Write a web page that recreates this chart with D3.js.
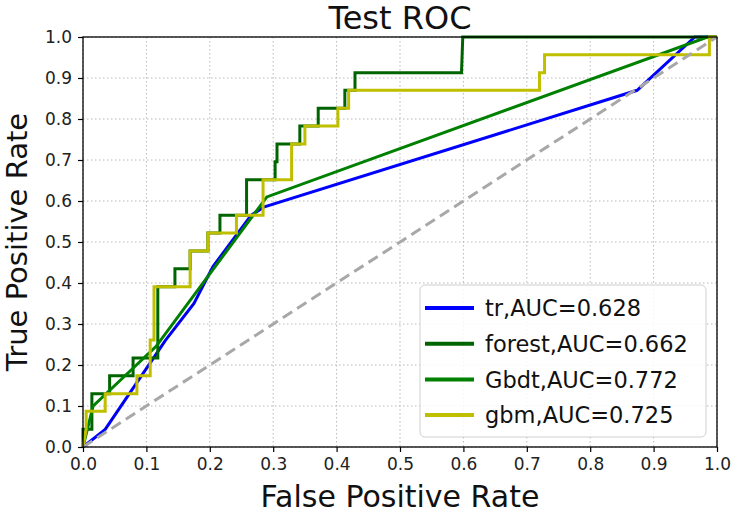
<!DOCTYPE html>
<html>
<head>
<meta charset="utf-8">
<script src="https://cdn.jsdelivr.net/npm/d3@7/dist/d3.min.js"></script>
<style>
  html, body { margin: 0; padding: 0; background: #fff; }
  svg { display: block; font-family: "DejaVu Sans", sans-serif; }
</style>
</head>
<body>
<svg id="chart" width="732" height="513"></svg>
<script>
// ---------- data ----------
const title = "Test ROC";
const xLabel = "False Positive Rate";
const yLabel = "True Positive Rate";
const tickValues = [0, 0.1, 0.2, 0.3, 0.4, 0.5, 0.6, 0.7, 0.8, 0.9, 1.0];

const trFpr = [0, 0.035, 0.13, 0.175, 0.205, 0.265, 0.285, 0.874, 0.965, 1];
const trTpr = [0, 0.043, 0.26, 0.35, 0.44, 0.565, 0.585, 0.87, 1.0, 1.0];

const forestFpr = [0, 0, 0.014, 0.014, 0.042, 0.042, 0.079, 0.079, 0.118, 0.118, 0.145, 0.145, 0.169, 0.169, 0.197, 0.197, 0.216, 0.216, 0.258, 0.258, 0.303, 0.303, 0.306, 0.306, 0.342, 0.342, 0.371, 0.371, 0.413, 0.413, 0.429, 0.429, 0.597, 0.599, 1];
const forestTpr = [0, 0.043, 0.043, 0.13, 0.13, 0.174, 0.174, 0.217, 0.217, 0.391, 0.391, 0.435, 0.435, 0.478, 0.478, 0.522, 0.522, 0.565, 0.565, 0.652, 0.652, 0.696, 0.696, 0.739, 0.739, 0.783, 0.783, 0.826, 0.826, 0.87, 0.87, 0.913, 0.913, 1.0, 1.0];

const gbdtFpr = [0, 0.016, 0.115, 0.29, 0.985, 1];
const gbdtTpr = [0, 0.1, 0.245, 0.61, 1.0, 1.0];

const gbmFpr = [0, 0.005, 0.005, 0.035, 0.035, 0.085, 0.085, 0.106, 0.106, 0.112, 0.112, 0.169, 0.169, 0.197, 0.197, 0.242, 0.242, 0.284, 0.284, 0.329, 0.329, 0.35, 0.35, 0.402, 0.402, 0.419, 0.419, 0.72, 0.72, 0.728, 0.728, 0.988, 0.988, 1];
const gbmTpr = [0, 0.043, 0.087, 0.087, 0.13, 0.13, 0.174, 0.174, 0.261, 0.261, 0.391, 0.391, 0.478, 0.478, 0.522, 0.522, 0.565, 0.565, 0.652, 0.652, 0.739, 0.739, 0.783, 0.783, 0.826, 0.826, 0.87, 0.87, 0.913, 0.913, 0.957, 0.957, 1.0, 1.0];

const diagFpr = [0, 1];
const diagTpr = [0, 1];

const seriesNames = ["tr,AUC=0.628", "forest,AUC=0.662", "Gbdt,AUC=0.772", "gbm,AUC=0.725"];
const seriesColors = ["#0000ff", "#006400", "#008000", "#bfbf00"];

// ---------- layout ----------
const svg = d3.select("#chart");
const L = 83, R = 717, T = 37, B = 447;
const x = d3.scaleLinear().domain([0, 1]).range([L, R]);
const y = d3.scaleLinear().domain([0, 1]).range([B, T]);

// grid
const grid = svg.append("g");
grid.selectAll("line.gx").data(tickValues).enter().append("line")
  .attr("x1", d => x(d)).attr("x2", d => x(d)).attr("y1", T).attr("y2", B)
  .attr("stroke", "#b8b8b8").attr("stroke-width", 1).attr("stroke-dasharray", "1.5,2.5");
grid.selectAll("line.gy").data(tickValues).enter().append("line")
  .attr("y1", d => y(d)).attr("y2", d => y(d)).attr("x1", L).attr("x2", R)
  .attr("stroke", "#b8b8b8").attr("stroke-width", 1).attr("stroke-dasharray", "1.5,2.5");

// curves
const line = d3.line().x(d => x(d[0])).y(d => y(d[1]));
const zip = (a, b) => a.map((v, i) => [v, b[i]]);
const curves = [zip(trFpr, trTpr), zip(forestFpr, forestTpr), zip(gbdtFpr, gbdtTpr), zip(gbmFpr, gbmTpr)];

const plot = svg.append("g");
curves.forEach((c, i) => {
  plot.append("path").datum(c).attr("d", line)
    .attr("fill", "none").attr("stroke", seriesColors[i])
    .attr("stroke-width", 3).attr("stroke-linejoin", "miter");
  if (i === 0) {
    plot.append("path").datum(c.slice(1, 7)).attr("d", line)
      .attr("fill", "none").attr("stroke", "#000").attr("stroke-opacity", 0.45)
      .attr("stroke-width", 1).attr("stroke-dasharray", "4,6");
  }
});
plot.append("path").datum(zip(diagFpr, diagTpr)).attr("d", line)
  .attr("fill", "none").attr("stroke", "#a8a8a8").attr("stroke-width", 3)
  .attr("stroke-dasharray", "11,6");

// frame
svg.append("rect").attr("x", L).attr("y", T).attr("width", R - L).attr("height", B - T)
  .attr("fill", "none").attr("stroke", "#000").attr("stroke-width", 1.3);

// axes
const xAxis = d3.axisBottom(x).tickValues(tickValues).tickFormat(d3.format(".1f"))
  .tickSizeInner(5).tickSizeOuter(0).tickPadding(6);
const yAxis = d3.axisLeft(y).tickValues(tickValues).tickFormat(d3.format(".1f"))
  .tickSizeInner(5).tickSizeOuter(0).tickPadding(6);
const gx = svg.append("g").attr("transform", `translate(0,${B})`).call(xAxis);
const gy = svg.append("g").attr("transform", `translate(${L},0)`).call(yAxis);
[gx, gy].forEach(g => {
  g.select(".domain").remove();
  g.selectAll(".tick line").attr("stroke", "#000").attr("stroke-width", 1.2);
  g.selectAll(".tick text").attr("fill", "#222").style("font-size", "17px")
    .style("font-family", "DejaVu Sans, sans-serif");
});

// title & labels
svg.append("text").attr("x", (L + R) / 2).attr("y", 29).attr("text-anchor", "middle")
  .style("font-size", "32px").attr("fill", "#111").text(title);
svg.append("text").attr("x", (L + R) / 2).attr("y", 507).attr("text-anchor", "middle")
  .style("font-size", "30px").attr("fill", "#111").text(xLabel);
svg.append("text").attr("transform", `translate(27,${(T + B) / 2}) rotate(-90)`)
  .attr("text-anchor", "middle").style("font-size", "29px").attr("fill", "#111").text(yLabel);

// legend
const lg = svg.append("g");
lg.append("rect").attr("x", 420).attr("y", 285).attr("width", 286).attr("height", 152)
  .attr("rx", 5).attr("ry", 5).attr("fill", "#fff").attr("fill-opacity", 0.85)
  .attr("stroke", "#d0d0d0").attr("stroke-width", 1);
seriesNames.forEach((n, i) => {
  const yy = 308 + i * 35.7;
  lg.append("line").attr("x1", 425).attr("x2", 474).attr("y1", yy).attr("y2", yy)
    .attr("stroke", seriesColors[i]).attr("stroke-width", 4);
  lg.append("text").attr("x", 485).attr("y", yy).attr("dy", "0.36em")
    .style("font-size", "22.5px").attr("fill", "#111").text(n);
});
</script>
</body>
</html>
